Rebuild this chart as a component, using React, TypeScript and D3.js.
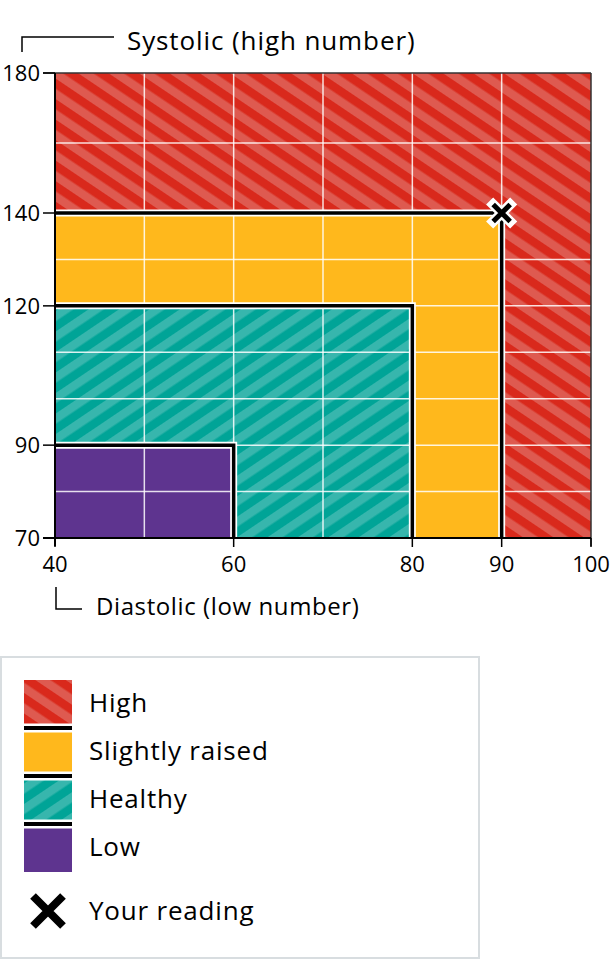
import * as d3 from 'd3'

// zones drawn from largest to smallest
const zoneNames = ['High', 'Slightly raised', 'Healthy', 'Low'];
const zoneDiastolicMax = [100, 90, 80, 60];
const zoneSystolicMax = [180, 140, 120, 90];

const xTicks = [40, 60, 80, 90, 100];
const yTicks = [70, 90, 120, 140, 180];
const xGrid = [50, 60, 70, 80, 90];
const yGrid = [80, 90, 100, 110, 120, 130, 160];

const readingDiastolic = 90;
const readingSystolic = 140;

const FONT = '"Open Sans", "Noto Sans", sans-serif';

const fills = ['url(#stripeRed)', '#FFB81C', 'url(#stripeTeal)', '#5E348F'];

const Cross = ({ cx, cy, r, w, outline }: { cx: number; cy: number; r: number; w: number; outline?: number }) => {
    const d = `M${cx - r},${cy - r}L${cx + r},${cy + r}M${cx - r},${cy + r}L${cx + r},${cy - r}`;
    return (
        <g>
            {outline ? <path d={d} stroke="#fff" strokeWidth={outline} fill="none" strokeLinecap="square" /> : null}
            <path d={d} stroke="#000" strokeWidth={w} fill="none" />
        </g>
    );
};

const App = () => {
    const width = 616;
    const height = 960;
    const plot = { left: 55, right: 591, top: 73, bottom: 538 };

    const x = d3.scaleLinear().domain([40, 100]).range([plot.left, plot.right]);
    // top band (140-180) is drawn compressed in the original
    const y = d3.scaleLinear().domain([70, 140, 180]).range([plot.bottom, 213, plot.top]);

    const boundary = (i: number) =>
        `M${x(40)},${y(zoneSystolicMax[i])}H${x(zoneDiastolicMax[i])}V${y(70)}`;

    const legendTop = 680;
    const legendStep = 48;

    return (
        <svg width={width} height={height} style={{ position: 'absolute', left: 0, top: 0, display: 'block' }}
            fontFamily={FONT}>
            <defs>
                <pattern id="stripeRed" patternUnits="userSpaceOnUse" width={17} height={40}
                    patternTransform="rotate(-56)">
                    <rect width={17} height={40} fill="#D9291C" />
                    <rect width={8.5} height={40} fill="#DE5A50" />
                </pattern>
                <pattern id="stripeTeal" patternUnits="userSpaceOnUse" width={17} height={40}
                    patternTransform="rotate(56)">
                    <rect width={17} height={40} fill="#00A497" />
                    <rect width={8.5} height={40} fill="#37B6AD" />
                </pattern>
            </defs>

            {/* zones */}
            {zoneNames.map((name, i) => (
                <rect key={name}
                    x={x(40)} y={y(zoneSystolicMax[i])}
                    width={x(zoneDiastolicMax[i]) - x(40)}
                    height={y(70) - y(zoneSystolicMax[i])}
                    fill={fills[i]} />
            ))}

            {/* grid */}
            {xGrid.map(v => (
                <line key={'gx' + v} x1={x(v)} x2={x(v)} y1={plot.top} y2={plot.bottom}
                    stroke="#fff" strokeOpacity={0.85} strokeWidth={1.5} />
            ))}
            {yGrid.map(v => (
                <line key={'gy' + v} x1={plot.left} x2={plot.right} y1={y(v)} y2={y(v)}
                    stroke="#fff" strokeOpacity={0.85} strokeWidth={1.5} />
            ))}

            {/* zone borders */}
            {[1, 2, 3].map(i => (
                <g key={'b' + i}>
                    <path d={boundary(i)} fill="none" stroke="#fff" strokeWidth={7} />
                    <path d={boundary(i)} fill="none" stroke="#000" strokeWidth={3.5} />
                </g>
            ))}

            {/* frame */}
            <line x1={plot.left - 12} x2={plot.right} y1={plot.top} y2={plot.top} stroke="#333" strokeWidth={1.5} />
            <line x1={plot.right} x2={plot.right} y1={plot.top} y2={plot.bottom + 8} stroke="#333" strokeWidth={1.5} />

            {/* y axis */}
            <line x1={plot.left} x2={plot.left} y1={plot.top} y2={plot.bottom + 8} stroke="#000" strokeWidth={2} />
            {yTicks.map(v => (
                <g key={'yt' + v}>
                    <line x1={plot.left - 12} x2={plot.left} y1={y(v)} y2={y(v)} stroke="#000" strokeWidth={1.5} />
                    <text x={plot.left - 15} y={y(v)} dy="0.36em" textAnchor="end" fontSize={22}>{v}</text>
                </g>
            ))}

            {/* x axis */}
            <line x1={plot.left - 12} x2={plot.right} y1={plot.bottom} y2={plot.bottom} stroke="#000" strokeWidth={2} />
            {xTicks.map(v => (
                <g key={'xt' + v}>
                    <line x1={x(v)} x2={x(v)} y1={plot.bottom} y2={plot.bottom + 9} stroke="#000" strokeWidth={1.5} />
                    <text x={x(v)} y={572} textAnchor="middle" fontSize={22}>{v}</text>
                </g>
            ))}

            {/* axis titles */}
            <path d="M22,52V37H114" fill="none" stroke="#000" strokeWidth={1.5} />
            <text x={127} y={50} fontSize={26} letterSpacing={0.9}>Systolic (high number)</text>
            <path d="M56,587V609H82" fill="none" stroke="#000" strokeWidth={1.5} />
            <text x={96} y={615} fontSize={24} letterSpacing={0.6}>Diastolic (low number)</text>

            {/* reading */}
            <Cross cx={x(readingDiastolic)} cy={y(readingSystolic)} r={8.5} w={5} outline={10} />

            {/* legend */}
            <rect x={1} y={657} width={478} height={301} fill="#fff" stroke="#d8dde0" strokeWidth={2} />
            {zoneNames.map((name, i) => (
                <g key={'l' + name}>
                    <rect x={24} y={legendTop + i * legendStep} width={48} height={legendStep} fill={fills[i]} />
                    <text x={89} y={legendTop + i * legendStep + 32} fontSize={26} letterSpacing={0.8}>{name}</text>
                </g>
            ))}
            {[1, 2, 3].map(i => (
                <g key={'ls' + i}>
                    <line x1={24} x2={72} y1={legendTop + i * legendStep} y2={legendTop + i * legendStep}
                        stroke="#fff" strokeWidth={9} />
                    <line x1={24} x2={72} y1={legendTop + i * legendStep} y2={legendTop + i * legendStep}
                        stroke="#000" strokeWidth={4} />
                </g>
            ))}
            <Cross cx={48} cy={911} r={15} w={8} />
            <text x={89} y={920} fontSize={26} letterSpacing={0.8}>Your reading</text>
        </svg>
    );
};

export default App;
